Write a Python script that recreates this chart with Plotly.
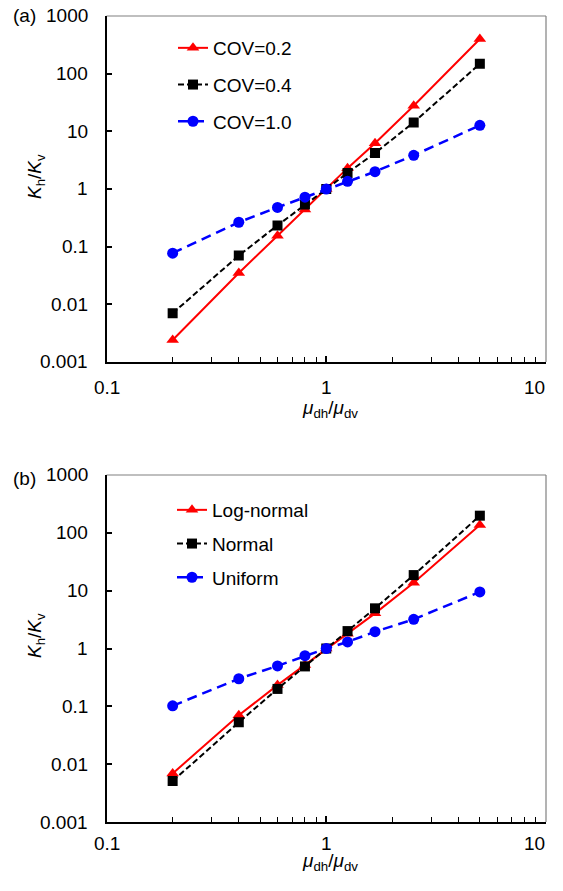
import math
import plotly.graph_objects as go

# ---------------- data ----------------
x_ratio = [0.2, 0.4, 0.6, 0.8, 1.0, 1.25, 1.667, 2.5, 5.0]

# panel (a)
cov02 = [0.0024, 0.035, 0.155, 0.44, 1.0, 2.3, 6.2, 27.7, 400]
cov04 = [0.007, 0.07, 0.234, 0.54, 1.0, 1.9, 4.2, 14.3, 148]
cov10 = [0.077, 0.265, 0.48, 0.72, 1.0, 1.36, 2.0, 3.84, 12.7]

# panel (b)
lognormal = [0.0069, 0.07, 0.233, 0.52, 1.0, 1.8, 4.05, 13.7, 136]
normal = [0.0051, 0.053, 0.2, 0.49, 1.0, 2.0, 4.95, 18.6, 198]
uniform = [0.102, 0.3, 0.5, 0.75, 1.0, 1.3, 1.95, 3.2, 9.5]

x_tickvals = [0.1, 1, 10]
x_ticktext = ["0.1", "1", "10"]
y_tickvals = [0.001, 0.01, 0.1, 1, 10, 100, 1000]
y_ticktext = ["0.001", "0.01", "0.1", "1", "10", "100", "1000"]

names_a = ["COV=0.2", "COV=0.4", "COV=1.0"]
names_b = ["Log-normal", "Normal", "Uniform"]

# ---------------- layout constants ----------------
W, H = 547, 875
FONT = "Liberation Sans, Arial, sans-serif"
FS = 19


def px(X):  # pixel x -> paper fraction
    return X / W


def py(Y):  # pixel y (from top) -> paper fraction
    return 1 - Y / H


xdom = [px(106.5), px(546)]
ydom_a = [py(362), py(16)]
ydom_b = [py(822), py(475)]

red = "#FF0000"
black = "#000000"
blue = "#0000FF"

styles = [
    dict(color=red, dash="solid", symbol="triangle-up", msize=11, lw=2),
    dict(color=black, dash="6px,3px", symbol="square", msize=10, lw=2),
    dict(color=blue, dash="10px,6px", symbol="circle", msize=11, lw=2.5),
]

fig = go.Figure()

for i, (ys, nm) in enumerate(zip([cov02, cov04, cov10], names_a)):
    s = styles[i]
    fig.add_trace(go.Scatter(
        x=x_ratio, y=ys, name=nm, mode="lines+markers",
        line=dict(color=s["color"], width=s["lw"], dash=s["dash"]),
        marker=dict(symbol=s["symbol"], size=s["msize"], color=s["color"]),
        xaxis="x", yaxis="y", legend="legend", legendgroup="a%d" % i,
    ))

for i, (ys, nm) in enumerate(zip([lognormal, normal, uniform], names_b)):
    s = styles[i]
    fig.add_trace(go.Scatter(
        x=x_ratio, y=ys, name=nm, mode="lines+markers",
        line=dict(color=s["color"], width=s["lw"], dash=s["dash"]),
        marker=dict(symbol=s["symbol"], size=s["msize"], color=s["color"]),
        xaxis="x2", yaxis="y2", legend="legend2", legendgroup="b%d" % i,
    ))


def xaxis_cfg(anchor):
    return dict(
        type="log", domain=xdom, anchor=anchor, range=[-1, 1],
        tickvals=x_tickvals, showticklabels=False,
        ticks="inside", ticklen=6, tickwidth=1.5, tickcolor="black",
        showline=True, linecolor="black", linewidth=2, mirror=False,
        showgrid=False, zeroline=False,
        minor=dict(ticks="inside", ticklen=5, tickwidth=1, tickcolor="black",
                   dtick="D1", showgrid=False),
    )


def yaxis_cfg(anchor, dom):
    return dict(
        type="log", domain=dom, anchor=anchor, range=[-3, 3],
        tickvals=y_tickvals, showticklabels=False,
        ticks="inside", ticklen=5, tickwidth=1.5, tickcolor="black",
        showline=True, linecolor="black", linewidth=2, mirror=False,
        showgrid=False, zeroline=False,
    )


fig.update_layout(
    width=W, height=H,
    margin=dict(l=0, r=0, t=0, b=0),
    paper_bgcolor="white", plot_bgcolor="white",
    font=dict(family=FONT, size=FS, color="black"),
    xaxis=xaxis_cfg("y"),
    yaxis=yaxis_cfg("x", ydom_a),
    xaxis2=xaxis_cfg("y2"),
    yaxis2=yaxis_cfg("x2", ydom_b),
    legend=dict(
        x=px(173), y=py(29), xanchor="left", yanchor="top",
        bgcolor="rgba(0,0,0,0)", tracegroupgap=9,
        font=dict(family=FONT, size=FS, color="black"),
    ),
    legend2=dict(
        x=px(172), y=py(491), xanchor="left", yanchor="top",
        bgcolor="rgba(0,0,0,0)", tracegroupgap=6,
        font=dict(family=FONT, size=FS, color="black"),
    ),
)

# gray frame on top and right of each plot area
for xr, yr in [("x domain", "y domain"), ("x2 domain", "y2 domain")]:
    fig.add_shape(type="line", xref=xr, yref=yr, x0=0, x1=1, y0=1, y1=1,
                  line=dict(color="#808080", width=1.2), layer="below")
    fig.add_shape(type="line", xref=xr, yref=yr, x0=1, x1=1, y0=0, y1=1,
                  line=dict(color="#808080", width=1.2), layer="below")

tfont = dict(family=FONT, size=FS, color="black")

# tick labels, placed on the axis scales
for xa, ya, ylab in [("x", "y", 387), ("x2", "y2", 843)]:
    for v, t in zip(y_tickvals, y_ticktext):
        fig.add_annotation(xref="paper", yref=ya, x=px(89.5), y=math.log10(v),
                           text=t, showarrow=False, xanchor="right",
                           yanchor="middle", font=tfont)
    for k, (v, t) in enumerate(zip(x_tickvals, x_ticktext)):
        last = k == len(x_tickvals) - 1
        fig.add_annotation(xref=xa, yref="paper", x=math.log10(v), y=py(ylab),
                           text=t, showarrow=False,
                           xanchor="right" if last else "center",
                           xshift=1 if last else 0,
                           yanchor="middle", font=tfont)

ytitle = "<i>K</i><sub>h</sub>/<i>K</i><sub>v</sub>"
xtitle = "<i>μ</i><sub>dh</sub>/<i>μ</i><sub>dv</sub>"

ann = [
    dict(text="(a)", x=px(24), y=py(16)),
    dict(text="(b)", x=px(24), y=py(478)),
    dict(text=ytitle, x=px(36), y=py(177), textangle=-90),
    dict(text=ytitle, x=px(36), y=py(636), textangle=-90),
    dict(text=xtitle, x=px(330), y=py(409)),
    dict(text=xtitle, x=px(330), y=py(862)),
]
for a in ann:
    fig.add_annotation(xref="paper", yref="paper", showarrow=False,
                       xanchor="center", yanchor="middle", font=tfont, **a)

fig.write_html("out.html")
